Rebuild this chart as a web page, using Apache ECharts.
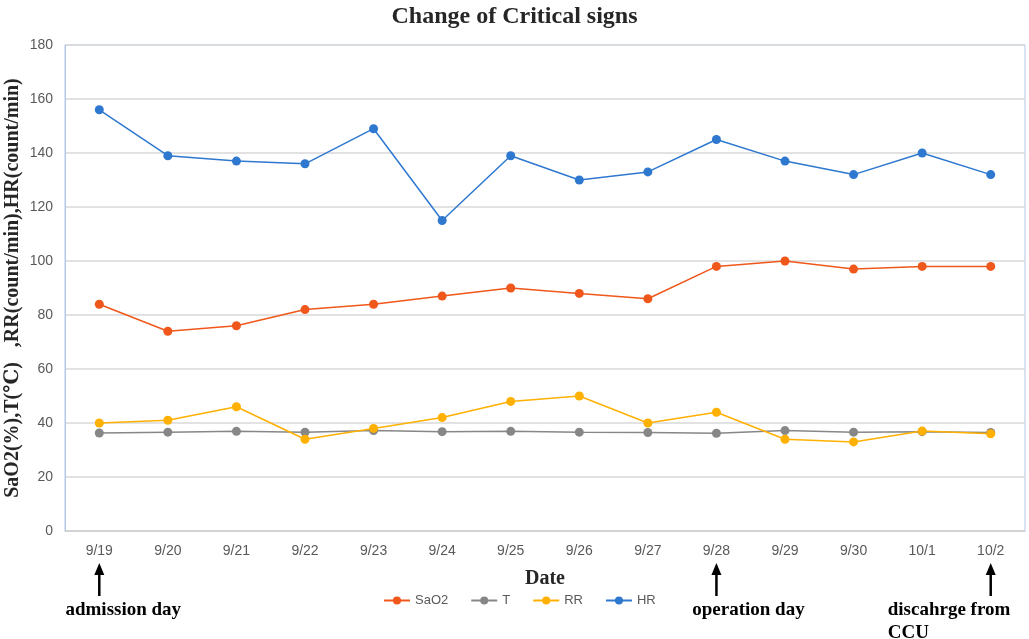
<!DOCTYPE html>
<html>
<head>
<meta charset="utf-8">
<script src="https://cdn.jsdelivr.net/npm/echarts@6/dist/echarts.min.js"></script>
<style>html,body{margin:0;padding:0;background:#fff}#c{width:1029px;height:639px}</style>
</head>
<body>
<div id="c"></div>
<script>
const dates = ['9/19','9/20','9/21','9/22','9/23','9/24','9/25','9/26','9/27','9/28','9/29','9/30','10/1','10/2'];
const sao2 = [84, 74, 76, 82, 84, 87, 90, 88, 86, 98, 100, 97, 98, 98];
const temp = [36.3, 36.6, 36.9, 36.6, 37.2, 36.8, 36.9, 36.6, 36.5, 36.2, 37.2, 36.6, 36.8, 36.5];
const rr = [40, 41, 46, 34, 38, 42, 48, 50, 40, 44, 34, 33, 37, 36];
const hr = [156, 139, 137, 136, 149, 115, 139, 130, 133, 145, 137, 132, 140, 132];
const yTicks = [0, 20, 40, 60, 80, 100, 120, 140, 160, 180];
const annotations = [
  {date: '9/19', lines: ['admission day'], align: 'center', dx: 24},
  {date: '9/28', lines: ['operation day'], align: 'center', dx: 32},
  {date: '10/2', lines: ['discahrge from', 'CCU'], align: 'left', dx: -103}
];

const serif = '"Liberation Serif","DejaVu Serif",serif';
const narrow = '"Liberation Sans Narrow","Liberation Sans",sans-serif';
const colors = {SaO2:'#f0571b', T:'#878787', RR:'#ffb000', HR:'#2e78cf'};

function mk(name, data) {
  return {
    name, type: 'line', data, symbol: 'circle', symbolSize: 9,
    lineStyle: {width: 1.5, color: colors[name]},
    itemStyle: {color: colors[name]},
    z: name === 'HR' ? 5 : 3
  };
}

const chart = echarts.init(document.getElementById('c'));
chart.setOption({
  animation: false,
  title: {
    text: 'Change of Critical signs', left: 'center', top: 0,
    textStyle: {fontFamily: serif, fontWeight: 'bold', fontSize: 24, color: '#262626'}
  },
  legend: {
    data: ['SaO2','T','RR','HR'], left: 378, top: 589,
    itemWidth: 26, itemHeight: 10, itemGap: 22,
    textStyle: {fontFamily: narrow, fontSize: 13, color: '#595959'}
  },
  grid: {left: 65, right: 4, top: 45, bottom: 108, outerBoundsMode: 'none', show: true, borderColor: '#b4c7e7', borderWidth: 1},
  xAxis: {
    type: 'category', data: dates, boundaryGap: true,
    name: 'Date', nameLocation: 'middle', nameGap: 38, nameMoveOverlap: false,
    nameTextStyle: {fontFamily: serif, fontWeight: 'bold', fontSize: 20, color: '#262626'},
    axisLine: {lineStyle: {color: '#d0d0d0', width: 1.5}},
    axisTick: {show: false},
    axisLabel: {fontFamily: narrow, fontSize: 14, color: '#595959', margin: 13, interval: 0}
  },
  yAxis: {
    type: 'value', min: yTicks[0], max: yTicks[yTicks.length - 1], interval: 20,
    name: 'SaO2(%),T(℃)   ,RR(count/min),HR(count/min)', nameLocation: 'middle', nameGap: 42, nameMoveOverlap: false,
    nameTextStyle: {fontFamily: serif, fontWeight: 'bold', fontSize: 20, color: '#262626'},
    axisLine: {show: true, lineStyle: {color: '#b4c7e7'}},
    axisTick: {show: false},
    axisLabel: {fontFamily: narrow, fontSize: 14, color: '#595959', margin: 12},
    splitLine: {lineStyle: {color: '#d9d9d9', width: 1.5}}
  },
  series: [mk('SaO2', sao2), mk('T', temp), mk('RR', rr), mk('HR', hr)]
});

const g = [];
annotations.forEach(a => {
  const x = chart.convertToPixel({xAxisIndex: 0}, a.date);
  g.push({type: 'line', shape: {x1: x, y1: 596, x2: x, y2: 574}, style: {stroke: '#000', lineWidth: 2.5}});
  g.push({type: 'polygon', shape: {points: [[x - 5, 575], [x + 5, 575], [x, 563]]}, style: {fill: '#000'}});
  a.lines.forEach((t, i) => {
    g.push({type: 'text', x: x + a.dx, y: 610 + i * 23, style: {
      text: t, fontFamily: serif, fontWeight: 'bold', fontSize: 19, fill: '#000',
      align: a.align, verticalAlign: 'middle'
    }});
  });
});
chart.setOption({graphic: g});
</script>
</body>
</html>
